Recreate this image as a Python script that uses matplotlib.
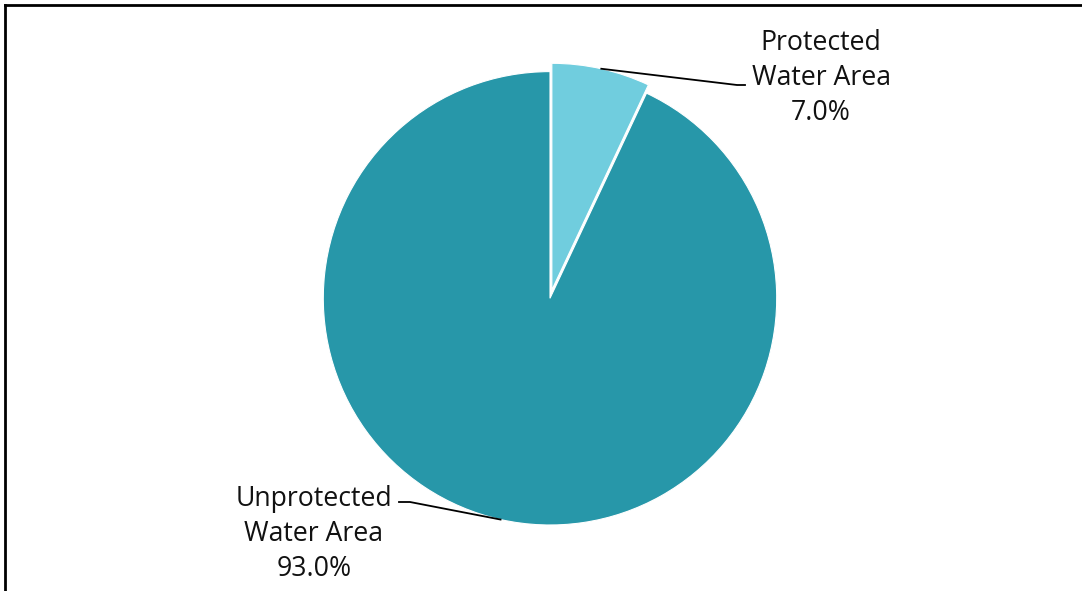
import numpy as np
import matplotlib.pyplot as plt
from matplotlib.lines import Line2D

labels = ["Protected\nWater Area", "Unprotected\nWater Area"]
values = [7.0, 93.0]
colors = ["#70CDDE", "#2797A9"]

plt.rcParams['font.family'] = ['Open Sans', 'DejaVu Sans']

fig = plt.figure(figsize=(10.82, 5.91), dpi=100)
ax = fig.add_axes([0, 0, 1, 1])

# pie drawn in pixel-like data units
cx, cy, r = 550, 292.7, 226.7
explode = [8.5, 0]
wedges, _ = ax.pie(values, colors=colors, startangle=90, counterclock=False,
                   center=(cx, cy), radius=r, frame=True, explode=explode,
                   wedgeprops=dict(edgecolor='white', linewidth=0.8))
ax.set_xlim(0, 1082)
ax.set_ylim(0, 591)
ax.set_aspect('equal')
ax.axis('off')

# leader lines + labels
label_pos = [(821, 513), (314, 57)]
elbows = [((737, 506), (745, 506)), ((410, 89), (399, 89))]
for w, lab, v, ex, (tx, ty), (e1, e2) in zip(wedges, labels, values, explode, label_pos, elbows):
    ang = np.deg2rad((w.theta1 + w.theta2) / 2)
    px = cx + (r + ex) * np.cos(ang)
    py = cy + (r + ex) * np.sin(ang)
    ax.plot([px, e1[0], e2[0]], [py, e1[1], e2[1]], color='black', lw=1.3)
    ax.text(tx, ty, f"{lab}\n{v:.1f}%", ha='center', va='center',
            fontsize=19.2, color='#111111', linespacing=1.35)

# frame
fig.add_artist(Line2D([5 / 1082, 1.0], [1 - 5 / 591, 1 - 5 / 591], transform=fig.transFigure, color='black', lw=2))
fig.add_artist(Line2D([5 / 1082, 5 / 1082], [0, 1 - 5 / 591], transform=fig.transFigure, color='black', lw=2))

fig.savefig('out.png', dpi=100)
